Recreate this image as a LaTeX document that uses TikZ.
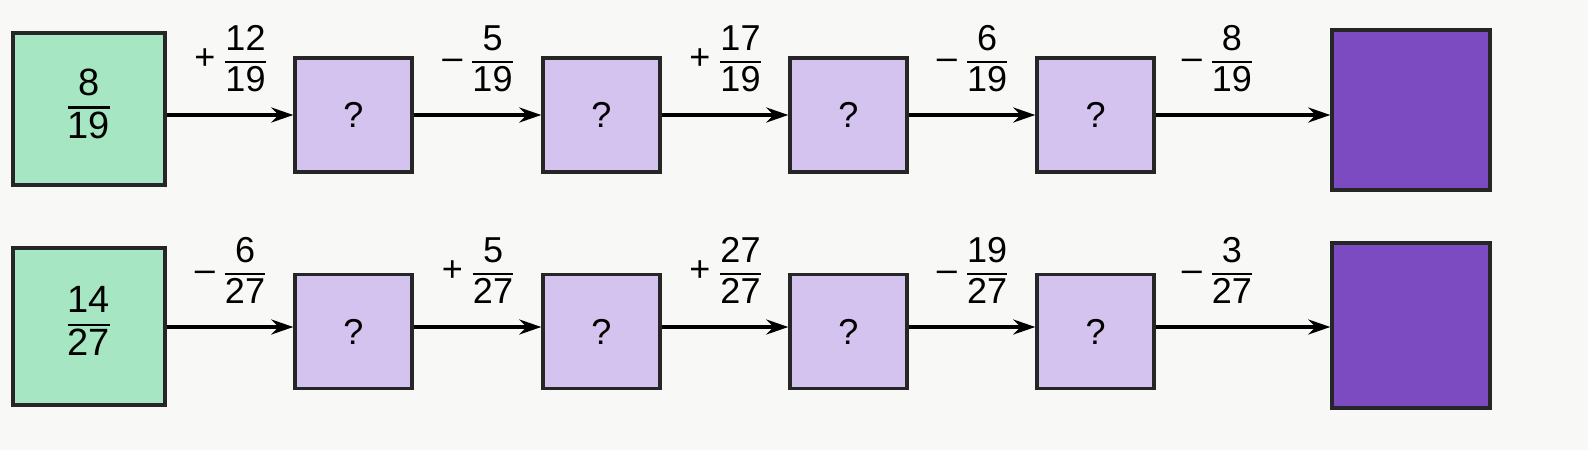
\documentclass[tikz,border=0pt]{standalone}
\usepackage{fontspec}
\setmainfont{Liberation Sans}
\usetikzlibrary{arrows.meta}
\definecolor{bg}{HTML}{F8F8F6}
\definecolor{gfill}{HTML}{A6E6C2}
\definecolor{pl}{HTML}{D5C3EF}
\definecolor{pd}{HTML}{7C4BC2}
\newcommand\fr[2]{{\setlength\arrayrulewidth{2.4pt}\renewcommand\arraystretch{0.85}\begin{tabular}{@{}c@{}}#1\\\hline\noalign{\vskip3pt}#2\end{tabular}}}
\tikzset{
 bx/.style={draw=black!85,line width=3.4pt,inner sep=0pt,font=\fontsize{36}{40}\selectfont},
 st/.style={bx,fill=gfill,minimum width=152pt,minimum height=152pt,font=\fontsize{38}{42}\selectfont},
 sm/.style={bx,fill=pl,minimum width=117pt,minimum height=114pt},
 bg2/.style={bx,fill=pd,minimum width=158pt,minimum height=160pt},
 ar/.style={line width=3.2pt,-{Stealth[length=22pt,width=15pt]}},
 lb/.style={above=12pt,font=\fontsize{36}{40}\selectfont,inner sep=0pt}
}
\begin{document}
\begin{tikzpicture}[x=1pt,y=-1pt]
\fill[bg] (0,0) rectangle (1588,450);
\useasboundingbox (0,0) rectangle (1588,450);
% row 1
\node[st] (a0) at (89,109) {\fr{8}{19}};
\node[sm] (a1) at (353.5,115) {?};
\node[sm] (a2) at (601.5,115) {?};
\node[sm] (a3) at (848.5,115) {?};
\node[sm] (a4) at (1095.5,115) {?};
\node[bg2] (a5) at (1411,110) {};
\draw[ar] (a0.east|-0,115) -- node[lb,pos=0.5]{+ \fr{12}{19}} (a1);
\draw[ar] (a1) -- node[lb]{-- \fr{5}{19}} (a2);
\draw[ar] (a2) -- node[lb]{+ \fr{17}{19}} (a3);
\draw[ar] (a3) -- node[lb]{-- \fr{6}{19}} (a4);
\draw[ar] (a4) -- node[lb,pos=0.35]{-- \fr{8}{19}} (a5.west|-0,115);
% row 2
\node[st,minimum height=157pt] (b0) at (89,326.5) {\fr{14}{27}};
\node[sm] (b1) at (353.5,331.5) {?};
\node[sm] (b2) at (601.5,331.5) {?};
\node[sm] (b3) at (848.5,331.5) {?};
\node[sm] (b4) at (1095.5,331.5) {?};
\node[bg2,minimum height=165pt] (b5) at (1411,325.5) {};
\draw[ar] (b0.east|-0,327) -- node[lb]{-- \fr{6}{27}} (b1.west|-0,327);
\draw[ar] (b1.east|-0,327) -- node[lb]{+ \fr{5}{27}} (b2.west|-0,327);
\draw[ar] (b2.east|-0,327) -- node[lb]{+ \fr{27}{27}} (b3.west|-0,327);
\draw[ar] (b3.east|-0,327) -- node[lb]{-- \fr{19}{27}} (b4.west|-0,327);
\draw[ar] (b4.east|-0,327) -- node[lb,pos=0.35]{-- \fr{3}{27}} (b5.west|-0,327);
\end{tikzpicture}
\end{document}
